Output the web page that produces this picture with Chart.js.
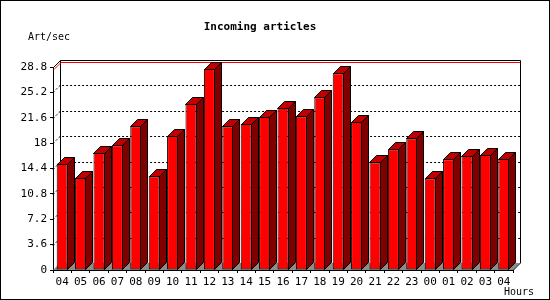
<!DOCTYPE html>
<html>
<head>
<meta charset="utf-8">
<script src="https://cdn.jsdelivr.net/npm/chart.js@4/dist/chart.umd.min.js"></script>
<style>
  html, body { margin: 0; padding: 0; background: #fff; }
  canvas { display: block; }
</style>
</head>
<body>
<canvas id="c" width="550" height="300"></canvas>
<script>
// ---- data ----
const hours = ['04','05','06','07','08','09','10','11','12','13','14','15','16','17','18','19','20','21','22','23','00','01','02','03','04'];
const articlesPerSec = [15.1,13.1,16.6,17.7,20.4,13.3,19.0,23.6,28.5,20.4,20.7,21.7,23.0,21.8,24.5,27.9,21.0,15.3,17.1,18.7,13.0,15.7,16.2,16.3,15.8];
const yTicks = [0,3.6,7.2,10.8,14.4,18,21.6,25.2,28.8];
const chartTitle = 'Incoming articles';
const yUnit = 'Art/sec';
const xUnit = 'Hours';

// ---- style ----
const DEPTH = 7;
const FONT = "'DejaVu Sans Mono', 'Liberation Mono', monospace";
const FRONT = '#ff0000', SIDE = '#800000', TOP = '#c00000', FLOOR = '#8c8c8c';

const box3d = {
  id: 'box3d',
  beforeDatasetsDraw(chart) {
    const ctx = chart.ctx, a = chart.chartArea, ys = chart.scales.y;
    const L = a.left, R = a.right, T = a.top, B = a.bottom, D = DEPTH;
    ctx.save();
    // floor
    ctx.fillStyle = FLOOR;
    ctx.beginPath();
    ctx.moveTo(L, B); ctx.lineTo(R, B); ctx.lineTo(R + D, B - D); ctx.lineTo(L + D, B - D);
    ctx.closePath(); ctx.fill();
    // dotted back grid
    ctx.strokeStyle = '#000'; ctx.lineWidth = 1;
    ctx.setLineDash([2, 2]);
    yTicks.forEach(v => {
      if (v <= ys.min || v >= ys.max) return;
      const y = Math.round(ys.getPixelForValue(v)) + 0.5;
      ctx.beginPath();
      ctx.moveTo(L, y); ctx.lineTo(L + D, y - D); ctx.lineTo(R + D, y - D);
      ctx.stroke();
    });
    ctx.setLineDash([]);
    // back wall frame
    ctx.beginPath();
    ctx.moveTo(L + D + 0.5, B - D); ctx.lineTo(L + D + 0.5, T - D + 0.5);
    ctx.lineTo(R + D + 0.5, T - D + 0.5); ctx.lineTo(R + D + 0.5, B - D);
    ctx.moveTo(L + 0.5, T + 0.5); ctx.lineTo(L + D + 0.5, T - D + 0.5);
    ctx.moveTo(R, B + 0.5); ctx.lineTo(R + D + 0.5, B - D);
    ctx.stroke();
    // peak line
    const peak = Math.max(...articlesPerSec);
    const py = Math.round(ys.getPixelForValue(peak)) + 0.5;
    ctx.strokeStyle = '#ff0000';
    ctx.beginPath();
    ctx.moveTo(L + 1, py); ctx.lineTo(L + D + 1, py - D); ctx.lineTo(R + D, py - D);
    ctx.stroke();
    ctx.restore();
  },
  afterDatasetsDraw(chart) {
    const ctx = chart.ctx, D = DEPTH;
    const meta = chart.getDatasetMeta(0);
    ctx.save();
    ctx.strokeStyle = '#000'; ctx.lineWidth = 1; ctx.lineJoin = 'miter';
    meta.data.forEach(bar => {
      const p = bar.getProps(['x', 'y', 'base', 'width'], true);
      const xl = Math.round(p.x - p.width / 2) + 0.5, xr = Math.round(p.x + p.width / 2) - 0.5;
      const yt = Math.round(p.y) + 0.5, yb = Math.round(p.base) - 0.5;
      // side
      ctx.fillStyle = SIDE;
      ctx.beginPath();
      ctx.moveTo(xr, yt); ctx.lineTo(xr + D, yt - D); ctx.lineTo(xr + D, yb - D); ctx.lineTo(xr, yb);
      ctx.closePath(); ctx.fill(); ctx.stroke();
      // top
      ctx.fillStyle = TOP;
      ctx.beginPath();
      ctx.moveTo(xl, yt); ctx.lineTo(xl + D, yt - D); ctx.lineTo(xr + D, yt - D); ctx.lineTo(xr, yt);
      ctx.closePath(); ctx.fill(); ctx.stroke();
    });
    ctx.restore();
  },
  afterDraw(chart) {
    const ctx = chart.ctx;
    ctx.save();
    ctx.fillStyle = '#000';
    ctx.textBaseline = 'middle';
    ctx.font = 'bold 11px ' + FONT;
    ctx.textAlign = 'center';
    ctx.fillText(chartTitle, 260, 27);
    ctx.font = '10px ' + FONT;
    ctx.textAlign = 'left';
    ctx.fillText(yUnit, 28, 37);
    ctx.fillText(xUnit, 504, 292);
    ctx.strokeStyle = '#000'; ctx.lineWidth = 1;
    ctx.strokeRect(0.5, 0.5, 549, 299);
    ctx.restore();
  }
};

new Chart(document.getElementById('c'), {
  type: 'bar',
  data: {
    labels: hours,
    datasets: [{
      data: articlesPerSec,
      backgroundColor: FRONT,
      borderColor: '#000',
      borderWidth: 1,
      borderSkipped: false,
      barPercentage: 0.6,
      categoryPercentage: 1.0
    }]
  },
  options: {
    responsive: false,
    animation: false,
    events: [],
    layout: { padding: { top: 67, right: 37, left: 0, bottom: 0 } },
    plugins: { legend: { display: false }, title: { display: false }, tooltip: { enabled: false } },
    scales: {
      x: {
        grid: { display: true, drawOnChartArea: false, drawTicks: true, tickLength: 3, color: '#000', offset: true },
        border: { display: true, color: '#000', width: 1 },
        ticks: { color: '#000', font: { family: FONT, size: 11 }, padding: 3, maxRotation: 0, autoSkip: false },
        afterFit(s) { s.height = 30; }
      },
      y: {
        min: 0, max: 28.8,
        grid: { display: true, drawOnChartArea: false, drawTicks: true, tickLength: 3, color: '#000' },
        border: { display: true, color: '#000', width: 1 },
        afterBuildTicks(s) { s.ticks = yTicks.map(v => ({ value: v })); },
        ticks: {
          color: '#000', font: { family: FONT, size: 11 }, padding: 3,
          callback: v => String(Number(v.toFixed(1)))
        },
        afterFit(s) { s.width = 53; }
      }
    }
  },
  plugins: [box3d]
});
</script>
</body>
</html>
